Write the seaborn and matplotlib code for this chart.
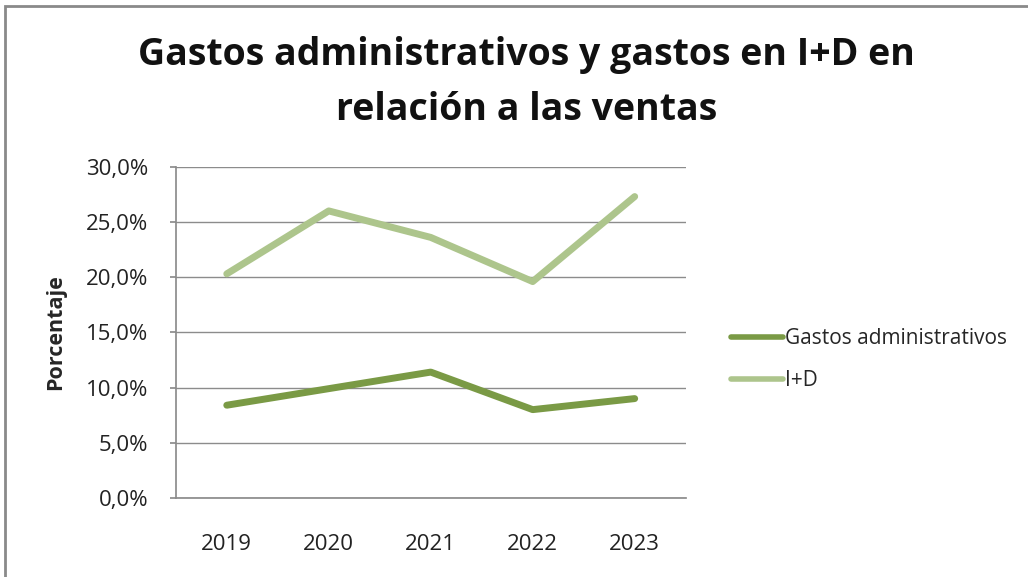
import matplotlib.pyplot as plt
from matplotlib.patches import Rectangle
from matplotlib.ticker import FuncFormatter
import pandas as pd
import seaborn as sns

# datos
years = ["2019", "2020", "2021", "2022", "2023"]
gastos_admin = [8.4, 9.9, 11.4, 8.0, 9.0]
i_d = [20.3, 26.0, 23.6, 19.6, 27.3]
series = ["Gastos administrativos", "I+D"]
colores = ["#7A9A45", "#ADC58C"]

df = pd.DataFrame({
    "anio": years * 2,
    "valor": gastos_admin + i_d,
    "serie": [series[0]] * len(years) + [series[1]] * len(years),
})

sns.set_theme(style="white")
plt.rcParams["font.family"] = ["Open Sans", "DejaVu Sans"]

fig = plt.figure(figsize=(10.28, 5.77), dpi=100)
ax = fig.add_axes([0.171, 0.137, 0.496, 0.574])

sns.lineplot(data=df, x="anio", y="valor", hue="serie", palette=colores,
             linewidth=5, sort=False, ax=ax, legend=False)

ax.set_xlim(-0.5, len(years) - 0.5)
ax.set_ylim(0, 30)
ax.set_yticks([0, 5, 10, 15, 20, 25, 30])
ax.yaxis.set_major_formatter(FuncFormatter(lambda v, p: ("%.1f%%" % v).replace(".", ",")))
ax.grid(axis="y", color="#8c8c8c", linewidth=1)
ax.set_axisbelow(True)
for s in ["top", "right"]:
    ax.spines[s].set_visible(False)
for s in ["left", "bottom"]:
    ax.spines[s].set_color("#8c8c8c")
ax.tick_params(axis="y", left=True, length=4, color="#8c8c8c", labelsize=16, pad=16, labelcolor="#222222")
ax.tick_params(axis="x", bottom=False, labelsize=16, pad=20, labelcolor="#222222")
ax.set_xlabel("")
ax.set_ylabel("Porcentaje", fontsize=15.5, fontweight="bold", labelpad=14)

# leyenda a la derecha
handles = [plt.Line2D([], [], color=c, linewidth=4) for c in colores]
fig.legend(handles, series, loc="center left", bbox_to_anchor=(0.693, 0.377),
           frameon=False, fontsize=15, handlelength=2.5, handletextpad=0.1,
           labelspacing=1.0)

fig.text(0.512, 0.905, "Gastos administrativos y gastos en I+D en",
         ha="center", va="center", fontsize=27, fontweight="bold", color="#111111")
fig.text(0.512, 0.81, "relación a las ventas",
         ha="center", va="center", fontsize=27, fontweight="bold", color="#111111")

# borde del grafico
fig.patches.append(Rectangle((0.005, -0.01), 1.2, 1.0, transform=fig.transFigure,
                             fill=False, edgecolor="#8a8a8a", linewidth=2))

fig.savefig("out.png", dpi=100)
